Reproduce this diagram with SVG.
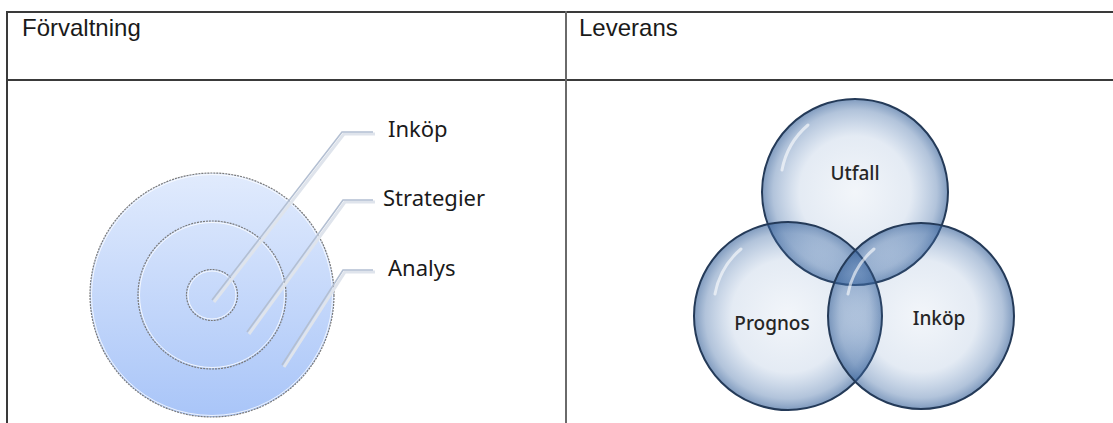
<svg xmlns="http://www.w3.org/2000/svg" width="1113" height="423" viewBox="0 0 1113 423">
<defs>
<style>
.hdr{font-family:"Liberation Sans",Arial,sans-serif;font-size:24px;fill:#1a1a1a}
.lbl{font-family:"Noto Sans","Open Sans",sans-serif;font-size:22px;fill:#1a1a1a}
.vlbl{font-family:"Noto Sans","Open Sans",sans-serif;font-size:19px;font-weight:500;fill:#262626;text-anchor:middle}
.ring{stroke:#7a7a7a;stroke-width:1.2;stroke-dasharray:2 1}
.ringw{fill:none;stroke:#ffffff;stroke-width:1;opacity:0.8}
.lead{fill:none;stroke:#b3bfd2;stroke-width:1.6}
.leadsh{fill:none;stroke:#dfe4ec;stroke-width:3}
.bub{fill:url(#bubG);stroke:#243a58;stroke-width:2}
.hl{fill:none;stroke:#ffffff;stroke-width:3;stroke-linecap:round;opacity:0.6}
.tbl{stroke:#3a3a3a;stroke-width:2;fill:none}
</style>
<linearGradient id="tgtG" x1="0" y1="0" x2="0" y2="1">
<stop offset="0" stop-color="#e1ebfd"/>
<stop offset="1" stop-color="#a9c5f8"/>
</linearGradient>
<radialGradient id="bubG" cx="0.5" cy="0.5" r="0.5">
<stop offset="0" stop-color="#4a78b4" stop-opacity="0.07"/>
<stop offset="0.6" stop-color="#4a78b4" stop-opacity="0.15"/>
<stop offset="0.88" stop-color="#3e6aa4" stop-opacity="0.4"/>
<stop offset="1" stop-color="#325d96" stop-opacity="0.62"/>
</radialGradient>
</defs>
<rect width="1113" height="423" fill="#ffffff"/>
<g id="table">
<line class="tbl" x1="7" y1="12" x2="1113" y2="12"/>
<line class="tbl" x1="7" y1="80" x2="1113" y2="80"/>
<line class="tbl" x1="7" y1="11" x2="7" y2="423"/>
<line x1="566" y1="11" x2="566" y2="423" stroke="#6a6a6a" stroke-width="2"/>
<text class="hdr" x="22" y="36">Förvaltning</text>
<text class="hdr" x="579" y="36">Leverans</text>
</g>
<g id="target">
<circle class="ring" cx="212" cy="295" r="122" fill="url(#tgtG)"/>
<circle class="ringw" cx="212" cy="295" r="120.5"/>
<circle class="ring" cx="212" cy="295" r="74" fill="none"/>
<circle class="ringw" cx="212" cy="295" r="72.5"/>
<circle class="ring" cx="212" cy="295" r="25.5" fill="none"/>
<circle class="ringw" cx="212" cy="295" r="24"/>
</g>
<g id="connectors">
<polyline class="leadsh" points="214,302 344,134 375,134"/>
<polyline class="leadsh" points="249,334 345,202 375,202"/>
<polyline class="leadsh" points="284,367 345,272 375,272"/>
<polyline class="lead" points="212,300 342,132 373,132"/>
<polyline class="lead" points="247,332 343,200 373,200"/>
<polyline class="lead" points="282,365 343,270 373,270"/>
</g>
<g id="label-inkop"><text class="lbl" x="388" y="137">Inköp</text></g>
<g id="label-strategier"><text class="lbl" x="383" y="206">Strategier</text></g>
<g id="label-analys"><text class="lbl" x="388" y="276">Analys</text></g>
<g id="venn-utfall">
<circle class="bub" cx="855" cy="192" r="93"/>
<path class="hl" d="M 782 170 A 78 78 0 0 1 808 125"/>
<text class="vlbl" x="855" y="180">Utfall</text>
</g>
<g id="venn-prognos">
<circle class="bub" cx="788" cy="316" r="94"/>
<path class="hl" d="M 715 294 A 78 78 0 0 1 741 249"/>
<text class="vlbl" x="772" y="330">Prognos</text>
</g>
<g id="venn-inkop">
<circle class="bub" cx="921" cy="316" r="93"/>
<path class="hl" d="M 848 294 A 78 78 0 0 1 874 249"/>
<text class="vlbl" x="939" y="325">Inköp</text>
</g>
</svg>
